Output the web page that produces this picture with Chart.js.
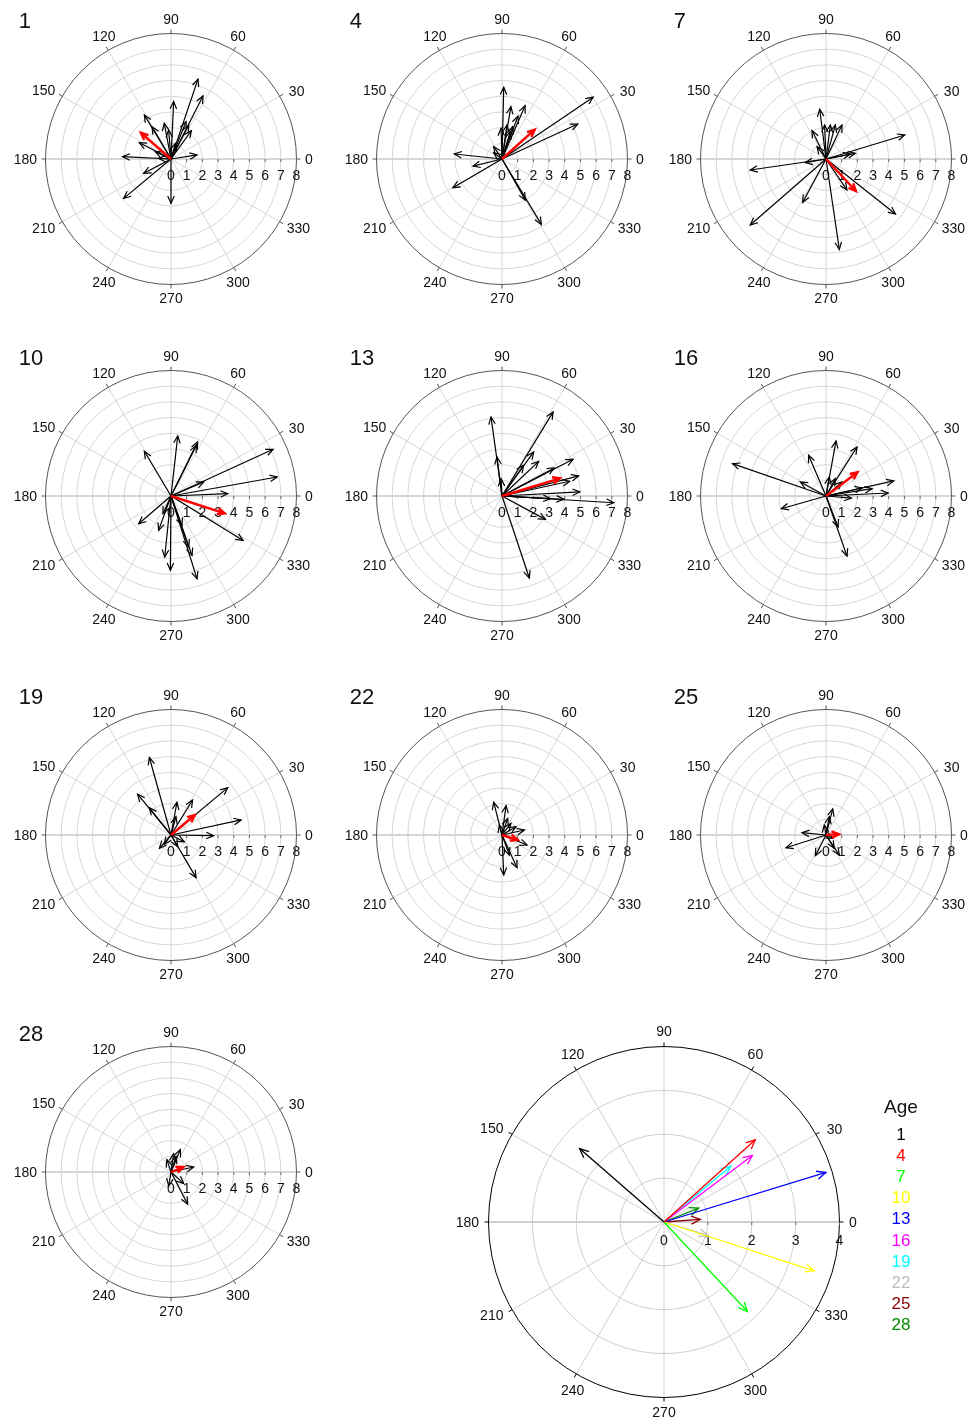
<!DOCTYPE html>
<html>
<head>
<meta charset="utf-8">
<script src="https://cdn.jsdelivr.net/npm/chart.js@4.4.1/dist/chart.umd.min.js"></script>
<style>
  html, body { margin: 0; padding: 0; background: #fff; }
  #page { position: relative; width: 974px; height: 1424px; overflow: hidden;
          font-family: "Liberation Sans", Arial, sans-serif; color: #111; }
  #page canvas { position: absolute; }
  .panel-no { position: absolute; font-size: 22px; line-height: 1; }
  .leg { position: absolute; width: 80px; text-align: center; line-height: 1; }
</style>
</head>
<body>
<div id="page"></div>
<script>
// age of each panel (and legend entries of the summary plot)
const ages = [1, 4, 7, 10, 13, 16, 19, 22, 25, 28];
const ageColors = ['#000000', '#ff0000', '#00ff00', '#ffff00', '#0000ff',
                   '#ff00ff', '#00ffff', '#bebebe', '#8b0000', '#008b00'];

// mean vector of each age: length and direction (degrees)
const meanLength = [2.55, 2.80, 2.79, 3.60, 3.86, 2.52, 1.98, 1.05, 0.83, 0.85];
const meanAngle = [139, 42, 313, 342, 17, 37, 40, 343, 4, 22];

// individual vectors, east (u) and north (v) components
const age1U = [1.72, 2.04, 0.17, -1.70, -2.02, -1.21, -0.43, -0.15, 0.96, 1.30, 1.13, -3.09, -0.80, 1.66, -1.74, -3.02, 0.00, 0.28, -1.00];
const age1V = [5.09, 4.02, 3.66, 2.81, 1.04, 2.06, 2.28, 1.85, 2.38, 1.81, 2.17, 0.15, 0.04, 0.26, -0.91, -2.51, -2.83, 1.00, 0.47];

const age4U = [0.11, 5.81, 4.83, 0.57, 1.47, 1.02, -0.06, 0.32, 0.68, 0.53, -0.53, -3.04, -1.85, -3.13, 2.51, 1.49, -0.53];
const age4V = [4.57, 3.94, 2.23, 3.34, 3.40, 2.74, 1.96, 2.17, 2.06, 1.74, 0.79, 0.32, -0.45, -1.83, -4.17, -2.62, 0.40];

const age7U = [-0.40, -0.89, 0.28, 0.60, 1.02, -0.09, 5.02, 1.87, -4.83, -1.32, -4.83, -1.49, 0.85, 4.43, 1.34, -0.57, 1.55];
const age7V = [3.17, 1.81, 2.17, 2.17, 2.17, 2.17, 1.53, 0.36, -0.70, -0.23, -4.21, -2.77, -5.77, -3.51, -1.98, 0.79, 0.32];

const age10U = [0.43, 1.70, 1.62, -1.70, 6.51, 6.77, 3.62, 2.09, 4.60, -2.06, -0.79, -0.40, -0.04, 1.66, 1.34, 1.13, -0.51, 0.70];
const age10V = [3.83, 3.45, 3.23, 2.85, 2.98, 1.21, 0.15, 0.89, -2.83, -1.77, -2.19, -3.89, -4.74, -5.28, -3.79, -3.26, -1.13, -1.87];

const age13U = [-0.70, -0.32, 3.26, 2.02, 2.34, 4.53, 3.34, 4.89, 4.32, 4.96, 3.94, 3.09, 7.13, 2.77, 1.74, 1.38, -0.06];
const age13V = [5.04, 2.49, 5.36, 2.81, 2.21, 2.34, 1.79, 1.28, 0.94, 0.26, -0.21, -0.17, -0.43, -1.49, -5.23, 1.96, 1.10];

const age16U = [-5.96, -1.11, 0.64, 1.98, 4.32, 3.96, 2.94, 2.30, 1.62, -2.85, -1.64, 1.34, 0.77, 0.21, 0.60, 1.02];
const age16V = [2.06, 2.60, 3.51, 3.13, 0.96, 0.19, 0.47, 0.51, -0.13, -0.81, 0.89, -3.83, -1.98, 1.21, 1.11, 0.89];

const age19U = [-1.38, -2.13, -1.38, 0.38, 1.38, 3.62, 4.47, 2.72, 1.60, -0.74, 0.85, 0.43, -0.43, 0.32];
const age19V = [4.94, 2.60, 1.74, 2.09, 2.23, 3.02, 0.96, -0.04, -2.72, -0.85, -0.43, -0.74, -0.60, 1.17];

const age22U = [-0.53, 0.26, 1.43, 0.89, 0.57, 1.60, 0.96, 0.11, 0.47, 0.36, -0.17];
const age22V = [2.09, 1.87, 0.32, 0.53, 0.74, -0.64, -2.09, -2.55, -1.28, 1.06, 0.64];

const age25U = [0.43, 0.21, -1.53, -2.55, -0.68, 0.85, 0.53, -0.11, 0.43];
const age25V = [1.66, 1.17, 0.15, -0.81, -1.32, -1.28, -0.85, 0.64, -0.21];

const age28U = [0.60, 0.17, -0.26, 1.45, 1.06, 0.81, -0.15, 0.32];
const age28V = [1.43, 1.17, 0.79, 0.32, -2.06, -0.74, -0.89, 1.00];

const vecU = [age1U, age4U, age7U, age10U, age13U, age16U, age19U, age22U, age25U, age28U];
const vecV = [age1V, age4V, age7V, age10V, age13V, age16V, age19V, age22V, age25V, age28V];

const angleTicks = [0, 30, 60, 90, 120, 150, 180, 210, 240, 270, 300, 330];

// layout
const colX = [170.7, 501.7, 825.7];
const rowY = [159, 495.7, 835, 1171.7];
const SMALL_R = 125.5, SMALL_MAX = 8, SMALL_SIZE = 330;
const BIG_CX = 664.3, BIG_CY = 1221.7, BIG_R = 175.5, BIG_MAX = 4, BIG_SIZE = 430;

const rad = d => d * Math.PI / 180;

// polar grid, labels and arrow heads drawn against the chart's x/y scales
const polarGrid = {
  id: 'polarGrid',
  beforeDatasetsDraw(chart, args, o) {
    const ctx = chart.ctx;
    const sx = chart.scales.x, sy = chart.scales.y;
    const cx = sx.getPixelForValue(0), cy = sy.getPixelForValue(0);
    const unit = sx.getPixelForValue(1) - cx;
    const R = o.rMax * unit;
    ctx.save();
    ctx.strokeStyle = o.gridColor;
    ctx.lineWidth = 1;
    for (let r = 1; r < o.rMax; r++) {
      ctx.beginPath();
      ctx.arc(cx, cy, r * unit, 0, 2 * Math.PI);
      ctx.stroke();
    }
    angleTicks.forEach(a => {
      ctx.lineWidth = a % 180 === 0 ? 2 : 1;
      ctx.beginPath();
      ctx.moveTo(cx, cy);
      ctx.lineTo(cx + R * Math.cos(rad(a)), cy - R * Math.sin(rad(a)));
      ctx.stroke();
    });
    ctx.strokeStyle = o.rimColor;
    ctx.lineWidth = 1;
    ctx.beginPath();
    ctx.arc(cx, cy, R, 0, 2 * Math.PI);
    ctx.stroke();
    angleTicks.forEach(a => {
      ctx.beginPath();
      ctx.moveTo(cx + R * Math.cos(rad(a)), cy - R * Math.sin(rad(a)));
      ctx.lineTo(cx + (R + 4) * Math.cos(rad(a)), cy - (R + 4) * Math.sin(rad(a)));
      ctx.stroke();
    });
    ctx.strokeStyle = '#666';
    for (let r = 1; r <= o.rMax; r++) {
      ctx.beginPath();
      ctx.moveTo(cx + r * unit, cy);
      ctx.lineTo(cx + r * unit, cy + 3);
      ctx.stroke();
    }
    ctx.fillStyle = '#111';
    ctx.font = '14px "Liberation Sans", Arial, sans-serif';
    ctx.textAlign = 'center';
    ctx.textBaseline = 'middle';
    for (let r = 0; r <= o.rMax; r++) ctx.fillText(String(r), cx + r * unit, cy + o.tickOffset);
    // angle labels: the label box sits just outside the rim
    angleTicks.forEach(a => {
      const txt = String(a);
      const hw = ctx.measureText(txt).width / 2, hh = 5.5;
      const c = Math.abs(Math.cos(rad(a))), s = Math.abs(Math.sin(rad(a)));
      const ext = Math.min(c > 1e-6 ? hw / c : 1e9, s > 1e-6 ? hh / s : 1e9);
      const d = R + o.labelGap + ext;
      const t = rad(a - 1.7 * Math.sin(rad(4 * a)));
      ctx.fillText(txt, cx + Math.cos(t) * d, cy - Math.sin(t) * d + 1);
    });
    ctx.restore();
  },
  afterDatasetDraw(chart, args, o) {
    const ds = chart.data.datasets[args.index];
    const pts = args.meta.data;
    if (pts.length < 2) return;
    const p0 = pts[0], p1 = pts[1];
    const ang = Math.atan2(p1.y - p0.y, p1.x - p0.x);
    const ctx = chart.ctx;
    ctx.save();
    ctx.strokeStyle = ds.borderColor;
    ctx.lineWidth = ds.borderWidth;
    ctx.beginPath();
    ctx.moveTo(p1.x - o.headLen * Math.cos(ang - 0.42), p1.y - o.headLen * Math.sin(ang - 0.42));
    ctx.lineTo(p1.x, p1.y);
    ctx.lineTo(p1.x - o.headLen * Math.cos(ang + 0.42), p1.y - o.headLen * Math.sin(ang + 0.42));
    ctx.stroke();
    ctx.restore();
  }
};

function arrow(u, v, color, width) {
  return {
    data: [{ x: 0, y: 0 }, { x: u, y: v }],
    showLine: true,
    borderColor: color,
    borderWidth: width,
    pointRadius: 0,
    pointHoverRadius: 0,
    clip: false
  };
}

function makePolar(left, top, size, range, datasets, gridOpts) {
  const canvas = document.createElement('canvas');
  canvas.width = size;
  canvas.height = size;
  canvas.style.left = left + 'px';
  canvas.style.top = top + 'px';
  canvas.style.width = size + 'px';
  canvas.style.height = size + 'px';
  document.getElementById('page').appendChild(canvas);
  return new Chart(canvas.getContext('2d'), {
    type: 'scatter',
    data: { datasets },
    options: {
      responsive: false,
      animation: false,
      events: [],
      layout: { padding: 0 },
      scales: {
        x: { type: 'linear', min: -range, max: range, display: false },
        y: { type: 'linear', min: -range, max: range, display: false }
      },
      plugins: { legend: { display: false }, tooltip: { enabled: false }, polarGrid: gridOpts }
    },
    plugins: [polarGrid]
  });
}

const page = document.getElementById('page');

ages.forEach((age, i) => {
  const cx = colX[i % 3], cy = rowY[Math.floor(i / 3)];
  const mu = meanLength[i] * Math.cos(rad(meanAngle[i]));
  const mv = meanLength[i] * Math.sin(rad(meanAngle[i]));
  // red mean arrow first so it is drawn on top
  const datasets = [arrow(mu, mv, '#ff0000', 2.4)];
  vecU[i].forEach((u, k) => datasets.push(arrow(u, vecV[i][k], '#000', 1.2)));
  const half = SMALL_SIZE / 2;
  makePolar(cx - half, cy - half, SMALL_SIZE, half / (SMALL_R / SMALL_MAX), datasets,
    { rMax: SMALL_MAX, gridColor: '#d6d6d6', rimColor: '#555', tickOffset: 17, labelGap: 8.5, headLen: 8 });

  const lab = document.createElement('div');
  lab.className = 'panel-no';
  lab.textContent = age;
  lab.style.left = (cx - 152) + 'px';
  lab.style.top = (cy - 149) + 'px';
  page.appendChild(lab);
});

// summary plot of mean vectors
const bigSets = ages.map((age, i) => arrow(
  meanLength[i] * Math.cos(rad(meanAngle[i])),
  meanLength[i] * Math.sin(rad(meanAngle[i])),
  ageColors[i], 1.3));
const bigHalf = BIG_SIZE / 2;
makePolar(BIG_CX - bigHalf, BIG_CY - bigHalf, BIG_SIZE, bigHalf / (BIG_R / BIG_MAX), bigSets,
  { rMax: BIG_MAX, gridColor: '#cfcfcf', rimColor: '#000', tickOffset: 19, labelGap: 9.5, headLen: 10 });

// legend
const title = document.createElement('div');
title.className = 'leg';
title.style.left = '861px';
title.style.top = '1097px';
title.style.fontSize = '19px';
title.textContent = 'Age';
page.appendChild(title);
ages.forEach((age, i) => {
  const d = document.createElement('div');
  d.className = 'leg';
  d.style.left = '861px';
  d.style.top = (1126 + i * 21.1) + 'px';
  d.style.fontSize = '17px';
  d.style.color = ageColors[i];
  d.textContent = age;
  page.appendChild(d);
});
</script>
</body>
</html>
